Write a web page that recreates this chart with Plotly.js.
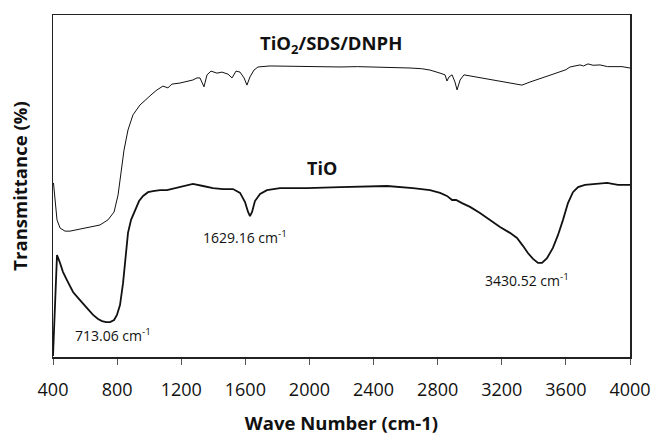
<!DOCTYPE html>
<html>
<head>
<meta charset="utf-8">
<script src="https://cdn.plot.ly/plotly-3.0.1.min.js"></script>
<style>html,body{margin:0;padding:0;background:#fff;}#chart{width:656px;height:435px;}</style>
</head>
<body>
<div id="chart"></div>
<script>
// TiO2/SDS/DNPH spectrum (wavenumber, transmittance, arbitrary offset scale)
const dnphWave = [403,412,425,444,475,506,568,631,693,743,781,806,824,843,868,899,943,986,1018,1049,1086,1117,1142,1192,1242,1273,1298,1317,1342,1361,1386,1423,1454,1492,1517,1542,1567,1592,1610,1629,1654,1679,1754,1850,1941,2050,2191,2300,2440,2550,2627,2700,2752,2815,2846,2858,2871,2890,2908,2921,2940,2964,3002,3064,3130,3189,3240,3283,3326,3376,3420,3470,3520,3563,3600,3626,3660,3688,3710,3738,3770,3813,3860,3906,3950,4000];
const dnphT    = [50.9,45.9,40.1,37.7,36.8,36.8,37.4,38.0,38.6,40.1,42.4,47.4,53.2,60.5,66.4,70.8,73.7,75.7,76.9,78.1,79.2,78.7,79.8,80.1,80.7,81.0,81.6,81.6,79.0,82.5,83.6,83.0,83.3,82.7,81.6,83.6,83.3,81.6,79.5,81.9,83.9,84.8,85.1,85.0,85.1,85.0,84.8,84.9,84.8,84.6,84.5,84.3,83.9,83.0,82.5,80.7,81.9,82.5,80.4,78.1,81.0,82.5,82.2,81.6,81.1,80.7,80.2,79.8,79.5,80.4,81.2,81.9,82.7,83.3,84.0,84.8,85.2,85.4,85.1,85.7,85.3,85.4,84.9,84.8,84.9,84.5];

// TiO spectrum
const tioWave = [400,406,416,425,444,462,487,525,556,587,618,650,681,706,731,756,781,799,818,837,855,868,887,912,937,962,993,1024,1068,1111,1161,1211,1273,1336,1398,1461,1523,1567,1598,1617,1629,1642,1660,1692,1735,1816,1985,2191,2484,2646,2752,2815,2858,2890,2915,2952,3002,3064,3126,3189,3251,3295,3332,3363,3395,3426,3451,3482,3519,3551,3582,3613,3644,3676,3719,3782,3857,3925,4000];
const tioT    = [0.3,7.9,19.6,29.8,27.5,24.9,22.5,19.0,17.3,15.8,14.0,12.3,11.1,10.5,10.2,10.2,10.8,12.3,15.2,21.6,29.8,36.3,40.1,43.0,45.6,47.1,48.2,48.5,48.8,48.8,49.4,50.0,50.6,50.0,49.4,49.1,49.1,48.0,45.3,42.4,41.2,42.4,45.6,47.7,48.8,49.4,49.4,49.7,50.0,49.4,48.8,48.0,47.1,45.9,45.9,45.0,43.9,42.1,40.1,38.0,36.3,34.8,32.5,30.4,28.7,27.5,27.5,28.9,31.9,35.7,40.1,45.0,48.2,49.7,50.3,50.6,50.9,50.3,50.3];

const xTicks = [400,800,1200,1600,2000,2400,2800,3200,3600,4000];

// Labels
const labelText = ["TiO<sub>2</sub>/SDS/DNPH","TiO","1629.16 cm<sup>-1</sup>","713.06 cm<sup>-1</sup>","3430.52 cm<sup>-1</sup>"];
const labelWave = [2134,2078,1598,774,3357];
const labelT    = [91.5,55.3,35.1,6.4,22.5];
const labelSize = [18.5,18,14,14,14];
const labelBold = [true,true,false,false,false];

const traces = [
  {x: dnphWave, y: dnphT, mode:'lines', line:{color:'#111', width:1}, showlegend:false, hoverinfo:'skip'},
  {x: tioWave, y: tioT, mode:'lines', line:{color:'#111', width:1.8}, showlegend:false, hoverinfo:'skip'}
];

const annotations = labelText.map((t,i)=>({
  x: labelWave[i], y: labelT[i], xref:'x', yref:'y', text: labelBold[i] ? '<b>'+t+'</b>' : t,
  showarrow:false, xanchor:'center', yanchor:'middle',
  font:{family:'Open Sans, sans-serif', size:labelSize[i], color:'#111'}
}));

const layout = {
  width:656, height:435,
  margin:{l:53, r:26, t:15, b:78},
  paper_bgcolor:'#fff', plot_bgcolor:'#fff',
  font:{family:'Open Sans, sans-serif', color:'#111'},
  xaxis:{
    range:[400,4000], tickvals:xTicks, ticktext:xTicks.map(String),
    ticks:'outside', ticklen:6, tickwidth:1, tickcolor:'#555',
    ticklabelstandoff:10,
    showline:true, mirror:true, linecolor:'#222', linewidth:1.5,
    showgrid:false, zeroline:false,
    tickfont:{size:18, color:'#111'},
    title:{text:'<b>Wave Number (cm-1)</b>', font:{size:18.5, color:'#111'}, standoff:20}
  },
  yaxis:{
    range:[0,100], showticklabels:false, ticks:'',
    showline:true, mirror:true, linecolor:'#222', linewidth:1.5,
    showgrid:false, zeroline:false,
    title:{text:'<b>Transmittance (%)</b>', font:{size:18.5, color:'#111'}, standoff:19}
  },
  annotations: annotations
};

Plotly.newPlot('chart', traces, layout, {displayModeBar:false, staticPlot:true});
</script>
</body>
</html>
